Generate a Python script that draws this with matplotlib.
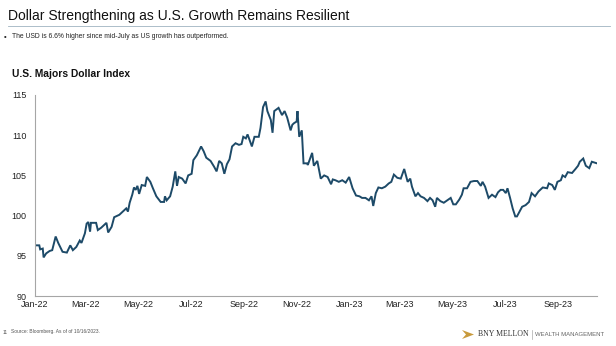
import matplotlib
matplotlib.use("Agg")
import matplotlib.pyplot as plt
import matplotlib.dates as mdates
import numpy as np
import pandas as pd
from matplotlib.lines import Line2D
from matplotlib.patches import Polygon

plt.rcParams['font.family'] = ['Liberation Sans', 'DejaVu Sans']

dates = [
    "2022-01-03", "2022-01-06", "2022-01-07", "2022-01-10", "2022-01-11", "2022-01-14", "2022-01-18",
    "2022-01-21", "2022-01-25", "2022-01-28", "2022-02-02", "2022-02-07", "2022-02-11", "2022-02-14",
    "2022-02-18", "2022-02-22", "2022-02-24", "2022-02-28", "2022-03-02", "2022-03-04", "2022-03-06",
    "2022-03-07", "2022-03-13", "2022-03-15", "2022-03-19", "2022-03-25", "2022-03-27", "2022-03-31",
    "2022-04-03", "2022-04-09", "2022-04-13", "2022-04-17", "2022-04-19", "2022-04-21", "2022-04-24",
    "2022-04-26", "2022-04-28", "2022-04-30", "2022-05-02", "2022-05-05", "2022-05-09", "2022-05-11",
    "2022-05-15", "2022-05-18", "2022-05-22", "2022-05-27", "2022-05-31", "2022-06-01", "2022-06-03",
    "2022-06-07", "2022-06-10", "2022-06-13", "2022-06-15", "2022-06-17", "2022-06-21", "2022-06-25",
    "2022-06-28", "2022-07-02", "2022-07-04", "2022-07-08", "2022-07-13", "2022-07-16", "2022-07-19",
    "2022-07-24", "2022-07-28", "2022-07-31", "2022-08-03", "2022-08-06", "2022-08-09", "2022-08-12",
    "2022-08-15", "2022-08-18", "2022-08-22", "2022-08-26", "2022-08-29", "2022-08-31", "2022-09-03",
    "2022-09-05", "2022-09-07", "2022-09-10", "2022-09-13", "2022-09-18", "2022-09-20", "2022-09-23",
    "2022-09-26", "2022-09-28", "2022-10-02", "2022-10-04", "2022-10-06", "2022-10-11", "2022-10-15",
    "2022-10-18", "2022-10-21", "2022-10-25", "2022-10-27", "2022-10-29", "2022-11-01", "2022-11-02",
    "2022-11-04", "2022-11-07", "2022-11-09", "2022-11-13", "2022-11-14", "2022-11-19", "2022-11-21",
    "2022-11-25", "2022-11-29", "2022-12-03", "2022-12-07", "2022-12-11", "2022-12-13", "2022-12-16",
    "2022-12-20", "2022-12-24", "2022-12-28", "2023-01-01", "2023-01-05", "2023-01-09", "2023-01-13",
    "2023-01-16", "2023-01-20", "2023-01-24", "2023-01-27", "2023-01-29", "2023-02-01", "2023-02-04",
    "2023-02-08", "2023-02-12", "2023-02-16", "2023-02-19", "2023-02-22", "2023-02-26", "2023-03-02",
    "2023-03-06", "2023-03-10", "2023-03-13", "2023-03-15", "2023-03-19", "2023-03-22", "2023-03-25",
    "2023-03-29", "2023-04-02", "2023-04-05", "2023-04-08", "2023-04-11", "2023-04-13", "2023-04-17",
    "2023-04-21", "2023-04-25", "2023-04-29", "2023-05-02", "2023-05-05", "2023-05-09", "2023-05-12",
    "2023-05-14", "2023-05-18", "2023-05-22", "2023-05-26", "2023-05-30", "2023-06-03", "2023-06-05",
    "2023-06-08", "2023-06-12", "2023-06-16", "2023-06-20", "2023-06-23", "2023-06-26", "2023-06-29",
    "2023-07-02", "2023-07-04", "2023-07-07", "2023-07-10", "2023-07-13", "2023-07-15", "2023-07-18",
    "2023-07-21", "2023-07-25", "2023-07-29", "2023-08-01", "2023-08-05", "2023-08-09", "2023-08-14",
    "2023-08-19", "2023-08-21", "2023-08-25", "2023-08-28", "2023-08-31", "2023-09-04", "2023-09-06",
    "2023-09-09", "2023-09-12", "2023-09-17", "2023-09-21", "2023-09-24", "2023-09-26", "2023-09-30",
    "2023-10-03", "2023-10-07", "2023-10-10", "2023-10-16",
]
usd_index = [
    96.3, 96.3, 95.8, 95.9, 94.8, 95.3, 95.6,
    95.7, 97.4, 96.6, 95.5, 95.4, 96.3, 95.7,
    96.1, 96.9, 96.6, 97.8, 99.0, 99.2, 98.0,
    99.1, 99.1, 98.2, 98.5, 99.1, 97.9, 98.6,
    99.8, 100.1, 100.5, 100.9, 100.5, 101.6, 102.6,
    103.5, 103.2, 103.7, 102.7, 103.8, 103.7, 104.8,
    104.2, 103.4, 102.4, 101.7, 101.7, 102.4, 101.9,
    102.4, 103.6, 105.5, 103.7, 104.8, 104.6, 104.0,
    105.0, 105.2, 106.9, 107.5, 108.6, 108.0, 107.2,
    106.8, 106.1, 105.5, 106.8, 106.5, 105.2, 106.4,
    107.0, 108.6, 109.0, 108.8, 108.9, 109.8, 109.6,
    110.1, 109.5, 108.6, 109.8, 109.8, 110.9, 113.5,
    114.2, 113.0, 111.9, 110.3, 113.0, 113.4, 112.5,
    113.0, 112.2, 110.6, 111.3, 111.5, 111.7, 113.0,
    109.8, 110.6, 106.5, 106.5, 106.3, 107.8, 106.2,
    106.8, 104.6, 105.0, 104.8, 103.9, 104.5, 104.4,
    104.2, 104.4, 104.1, 104.8, 103.4, 102.5, 102.4,
    102.2, 102.2, 101.9, 102.4, 101.2, 102.8, 103.5,
    103.4, 103.6, 104.0, 104.2, 105.1, 104.7, 104.6,
    105.8, 104.2, 104.6, 103.6, 102.4, 102.8, 102.4,
    102.2, 101.8, 102.2, 101.9, 101.1, 102.2, 101.8,
    101.6, 101.9, 102.2, 101.4, 101.4, 102.0, 102.6,
    103.4, 103.4, 104.2, 104.3, 104.3, 103.7, 104.2,
    103.6, 102.2, 102.6, 102.3, 102.9, 103.2, 103.2,
    102.8, 103.4, 102.2, 100.9, 99.9, 99.9, 100.5,
    101.1, 101.3, 101.7, 102.8, 102.4, 103.0, 103.5,
    103.4, 104.0, 103.8, 103.2, 104.2, 104.4, 105.0,
    104.8, 105.4, 105.3, 105.8, 106.2, 106.7, 107.1,
    106.2, 105.9, 106.7, 106.5,
]
y_ticks = [90, 95, 100, 105, 110, 115]

title = "Dollar Strengthening as U.S. Growth Remains Resilient"
bullet = "The USD is 6.6% higher since mid-July as US growth has outperformed."
chart_title = "U.S. Majors Dollar Index"
footer = "Source: Bloomberg. As of of 10/16/2023."

W, H = 616, 346
fig = plt.figure(figsize=(W / 100, H / 100), dpi=100)
fig.patch.set_facecolor("white")

ax = fig.add_axes([35 / W, (H - 296) / H, (597 - 35) / W, (296 - 95) / H])
x = pd.to_datetime(dates)
ax.plot(x, usd_index, color="#1d4a68", lw=1.4, solid_joinstyle="miter")
ax.set_ylim(90, 115)
ax.set_yticks(y_ticks)
ax.set_xlim(pd.Timestamp("2022-01-01"), pd.Timestamp("2023-10-16"))
ax.xaxis.set_major_locator(mdates.MonthLocator(bymonth=[1, 3, 5, 7, 9, 11]))
ax.xaxis.set_major_formatter(mdates.DateFormatter("%b-%y"))
for s in ["top", "right"]:
    ax.spines[s].set_visible(False)
for s in ["left", "bottom"]:
    ax.spines[s].set_color("#a6a6a6")
    ax.spines[s].set_linewidth(0.8)
ax.tick_params(axis="both", length=0, labelsize=6.5, colors="#222222")
ax.tick_params(axis="y", pad=6)
ax.tick_params(axis="x", pad=3)

fig.text(8 / W, 1 - 16 / H, title, fontsize=10, color="#111111", va="center", ha="left")
fig.add_artist(Line2D([8 / W, 610 / W], [1 - 26 / H, 1 - 26 / H], color="#9fb3c0", lw=0.6))
fig.text(4 / W, 1 - 37 / H, "\u2022", fontsize=5.5, va="center", ha="left", color="#222222")
fig.text(12 / W, 1 - 37 / H, bullet, fontsize=4.9, va="center", ha="left", color="#222222")
fig.text(12 / W, 1 - 74 / H, chart_title, fontsize=7.4, fontweight="bold", va="center", ha="left", color="#111111")
fig.text(3 / W, 1 - 332 / H, "11", fontsize=3.4, va="center", ha="left", color="#555555")
fig.text(11 / W, 1 - 332 / H, footer, fontsize=3.5, va="center", ha="left", color="#555555")

# logo
chev = Polygon([[462 / W, 1 - 330 / H], [474 / W, 1 - 334.5 / H], [462 / W, 1 - 339 / H], [466 / W, 1 - 334.5 / H]],
               closed=True, transform=fig.transFigure, facecolor="#c89a3c", edgecolor="none")
fig.add_artist(chev)
fig.text(478 / W, 1 - 334.5 / H, "BNY MELLON", fontsize=5.6, family="Liberation Serif", va="center", ha="left", color="#333333")
fig.add_artist(Line2D([532 / W, 532 / W], [1 - 330 / H, 1 - 339 / H], color="#aaaaaa", lw=0.5))
fig.text(535 / W, 1 - 334.5 / H, "WEALTH MANAGEMENT", fontsize=4.3, va="center", ha="left", color="#666666")

fig.savefig("out.png", dpi=100, facecolor="white")
